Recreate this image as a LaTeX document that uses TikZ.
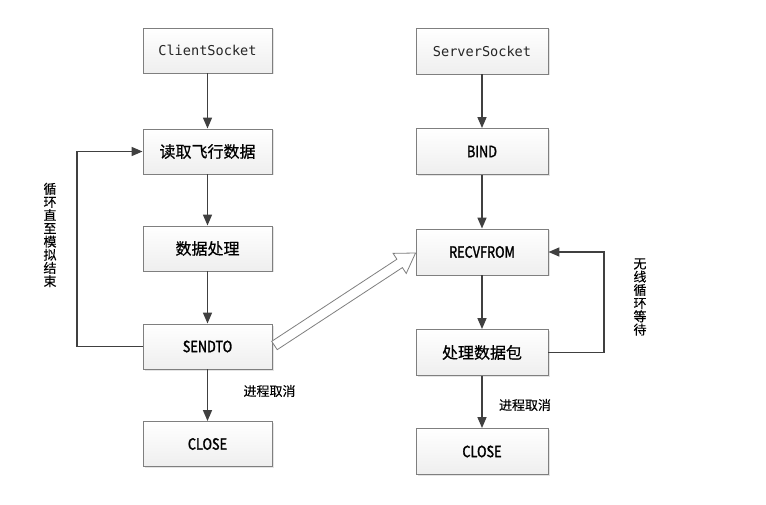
\documentclass[tikz,border=0pt]{standalone}
\usepackage{fontspec}
\newfontfamily\cjk[FakeBold=0.6]{Noto Sans CJK SC}
\newfontfamily\cjklight[FakeBold=0.2]{Noto Sans CJK SC}
\newfontfamily\cond[FakeStretch=0.82,FakeBold=1.6]{Noto Sans CJK SC}
\newfontfamily\mono{DejaVu Sans Mono}
\usetikzlibrary{arrows.meta,calc,shadows}
\definecolor{boxline}{HTML}{7F7F7F}
\definecolor{arrowc}{HTML}{404040}
\tikzset{
  boxL/.style={draw=boxline, line width=0.9pt, minimum width=129pt, minimum height=45pt,
    top color=white, bottom color=gray!13, inner sep=0pt,
    drop shadow={shadow xshift=1.5pt, shadow yshift=-1.5pt, fill=gray!35, opacity=0.6}},
  boxR/.style={boxL, minimum width=132pt, minimum height=46pt},
  monot/.style={font=\mono\fontsize{13.6}{16}\selectfont, text=black!85},
  cjkt/.style={font=\cjk\fontsize{16}{18}\selectfont},
  latt/.style={font=\cond\fontsize{15.5}{18}\selectfont},
  lbl/.style={font=\cjklight\fontsize{13}{13}\selectfont, inner sep=0pt},
  vlbl/.style={font=\cjklight\fontsize{13}{13.2}\selectfont, align=center, inner sep=0pt},
  flow/.style={draw=arrowc, line width=1.5pt, -{Triangle[length=11pt,width=9pt]}},
}
\begin{document}
\begin{tikzpicture}[x=1pt,y=-1pt]
\useasboundingbox (0,0) rectangle (766,505);
% left column
\node[boxL, monot] (cs) at (207.5,50.5) {ClientSocket};
\node[boxL, cjkt] (read) at (207.5,151.5) {读取飞行数据};
\node[boxL, cjkt] (proc) at (207.5,248.5) {数据处理};
\node[boxL, latt] (send) at (207.5,346.5) {SENDTO};
\node[boxL, latt] (closeL) at (207.5,444) {CLOSE};
% right column
\node[boxR, monot] (ss) at (482,51) {ServerSocket};
\node[boxR, latt] (bind) at (482,151.5) {BIND};
\node[boxR, latt] (recv) at (482,252) {RECVFROM};
\node[boxR, cjkt] (pkt) at (482,352.5) {处理数据包};
\node[boxR, latt] (closeR) at (482,451.5) {CLOSE};
% labels
\node[lbl] (cancelL) at (269.5,391) {进程取消};
\node[lbl] (cancelR) at (525,405) {进程取消};
\node[vlbl] (loopL) at (50,235) {循\\环\\直\\至\\模\\拟\\结\\束};
\node[vlbl] (loopR) at (640,297) {无\\线\\循\\环\\等\\待};
% arrows
\draw[flow] (cs) -- (read);
\draw[flow] (read) -- (proc);
\draw[flow] (proc) -- (send);
\draw[flow] (send) -- (closeL);
\draw[flow] (ss) -- (bind);
\draw[flow] (bind) -- (recv);
\draw[flow] (recv) -- (pkt);
\draw[flow] (pkt) -- (closeR);
\coordinate (lx) at (77,0);
\draw[flow] (send.west) -- (send.west -| lx) -- (read.west -| lx) -- (read.west);
\coordinate (rx) at (604,0);
\draw[flow] (pkt.east) -- (pkt.east -| rx) -- (recv.east -| rx) -- (recv.east);
% block arrow
\coordinate (ta) at ($(send.east)+(2,-1)$);
\coordinate (tb) at ($(recv.west)+(0,1)$);
\coordinate (th) at ($(tb)!19pt!(ta)$);
\draw[boxline, line width=0.8pt, fill=white]
  ($(ta)!5pt!90:(tb)$) -- ($(th)!5pt!-90:(ta)$) -- ($(th)!12pt!-90:(ta)$) -- (tb)
  -- ($(th)!12pt!90:(ta)$) -- ($(th)!5pt!90:(ta)$) -- ($(ta)!5pt!-90:(tb)$) -- cycle;
\end{tikzpicture}
\end{document}
